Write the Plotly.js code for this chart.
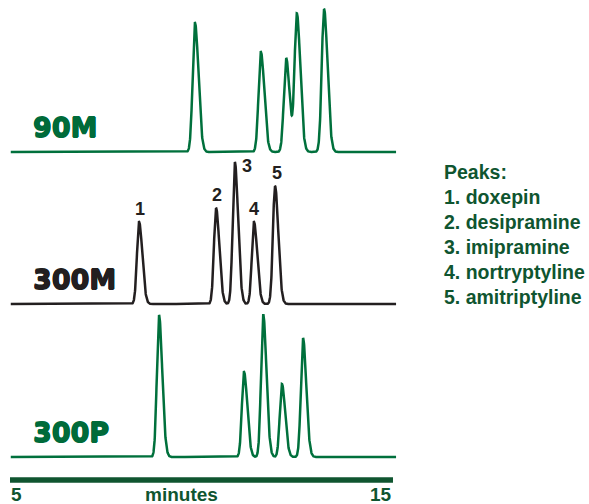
<!DOCTYPE html>
<html><head><meta charset="utf-8">
<script src="https://cdn.plot.ly/plotly-3.0.1.min.js"></script>
<style>html,body{margin:0;padding:0;background:#fff}#chart{width:589px;height:504px}</style>
</head><body><div id="chart"></div>
<script>
// Column names
const columns = ["90M", "300M", "300P"];
// Peak identities
const peakNames = ["doxepin", "desipramine", "imipramine", "nortryptyline", "amitriptyline"];
const peakNumbers = ["1", "2", "3", "4", "5"];
// Retention times (minutes) and peak heights (relative units)
const times90M = [9.83, 11.55, 12.21, 12.49, 13.20];
const heights90M = [129, 100, 94, 138, 143];
const times300M = [8.37, 10.38, 10.87, 11.37, 11.92];
const heights300M = [82, 96, 142, 82, 118];
const times300P = [8.89, 11.11, 11.61, 12.10, 12.65];
const heights300P = [142, 85, 143, 73, 119];
// Peak widths (minutes): leading and tailing sigma per column
const sigmaLeft = [0.06, 0.055, 0.055];
const sigmaRight = [0.09, 0.085, 0.085];
// Time window and axis ticks
const runStart = 5.02, runEnd = 15.08;
const tickValues = [5, 15];
const tickLabels = ["5", "15"];
const axisLabel = "minutes";

function chromatogram(times, heights, sL, sR) {
  const xs = [], ys = [];
  for (let x = runStart; x <= runEnd + 1e-9; x += 0.004) {
    let y = 0;
    for (let i = 0; i < times.length; i++) {
      const d = x - times[i];
      const s = d < 0 ? sL : sR;
      y += heights[i] * Math.exp(-d * d / (2 * s * s));
    }
    xs.push(x); ys.push(y);
  }
  return {x: xs, y: ys};
}

const green = "#00703c";
const labelGreen = "#006b3a";
const darkGreen = "#0f5530";
const black = "#231f20";

const c90 = chromatogram(times90M, heights90M, sigmaLeft[0], sigmaRight[0]);
const c300M = chromatogram(times300M, heights300M, sigmaLeft[1], sigmaRight[1]);
const c300P = chromatogram(times300P, heights300P, sigmaLeft[2], sigmaRight[2]);

const traces = [
  {x: c90.x, y: c90.y, yaxis: "y3", mode: "lines", line: {color: green, width: 2.5}, name: columns[0], hoverinfo: "skip"},
  {x: c300M.x, y: c300M.y, yaxis: "y2", mode: "lines", line: {color: black, width: 2.5}, name: columns[1], hoverinfo: "skip"},
  {x: c300P.x, y: c300P.y, yaxis: "y", mode: "lines", line: {color: green, width: 2.5}, name: columns[2], hoverinfo: "skip"}
];

function heavy(col) {
  const d = "0.6px";
  return d + " 0 0 " + col + ", -" + d + " 0 0 " + col + ", 0 " + d + " 0 " + col + ", 0 -" + d + " 0 " + col;
}

const annotations = [];
const labelAxes = ["y3", "y2", "y"];
const labelColors = [labelGreen, black, labelGreen];
columns.forEach((c, i) => {
  annotations.push({text: "<b>" + c + "</b>", x: 5.54, xref: "x", y: 25, yref: labelAxes[i],
    xanchor: "left", yanchor: "middle", showarrow: false,
    font: {family: "DejaVu Sans", size: 27, color: labelColors[i], shadow: heavy(labelColors[i])}});
});
// Peak number labels on the 300M trace
const numShiftX = [1, 1, 12, 0, 2];
peakNumbers.forEach((n, i) => {
  annotations.push({text: "<b>" + n + "</b>", x: times300M[i], xref: "x", y: heights300M[i], yref: "y2",
    xanchor: "center", yanchor: "bottom", xshift: numShiftX[i], yshift: (i === 2 ? -16 : 1), showarrow: false,
    font: {family: "Liberation Sans", size: 18, color: black}});
});
// Peaks legend
const legendLines = ["Peaks:"].concat(peakNames.map((p, i) => peakNumbers[i] + ". " + p));
const legendPy = [172, 197, 222, 247, 272, 297];
legendLines.forEach((t, i) => {
  annotations.push({text: "<b>" + t + "</b>", x: 442 / 409, xref: "paper", y: 1 - legendPy[i] / 504, yref: "paper",
    xanchor: "left", yanchor: "middle", showarrow: false,
    font: {family: "Liberation Sans", size: 19.5, color: darkGreen}});
});
// Axis labels
tickValues.forEach((v, i) => {
  annotations.push({text: "<b>" + tickLabels[i] + "</b>", x: v, xref: "x", y: 0, yref: "paper",
    xanchor: i === 0 ? "left" : "right", yanchor: "bottom", borderpad: 0, yshift: -2, showarrow: false,
    font: {family: "Liberation Sans", size: 19, color: darkGreen}});
});
annotations.push({text: "<b>" + axisLabel + "</b>", x: 9.49, xref: "x", y: 0, yref: "paper",
  xanchor: "center", yanchor: "bottom", borderpad: 0, yshift: -2, showarrow: false,
  font: {family: "Liberation Sans", size: 19, color: darkGreen}});

const hidden = {visible: false, range: [-10, 150], fixedrange: true};
const layout = {
  width: 589, height: 504,
  margin: {l: 0, r: 180, t: 0, b: 0},
  paper_bgcolor: "#fff", plot_bgcolor: "#fff",
  showlegend: false,
  xaxis: {visible: false, range: [4.739, 15.418], fixedrange: true},
  yaxis: Object.assign({}, hidden, {domain: [1 - 467 / 504, 1 - 307 / 504]}),
  yaxis2: Object.assign({}, hidden, {domain: [1 - 314 / 504, 1 - 154 / 504]}),
  yaxis3: Object.assign({}, hidden, {domain: [1 - 162 / 504, 1 - 2 / 504]}),
  shapes: [{type: "line", xref: "x", yref: "paper", x0: tickValues[0], x1: tickValues[1],
    y0: 1 - 480 / 504, y1: 1 - 480 / 504, line: {color: darkGreen, width: 5.5}}],
  annotations: annotations
};

Plotly.newPlot("chart", traces, layout, {staticPlot: true, displayModeBar: false});
</script>
</body></html>
